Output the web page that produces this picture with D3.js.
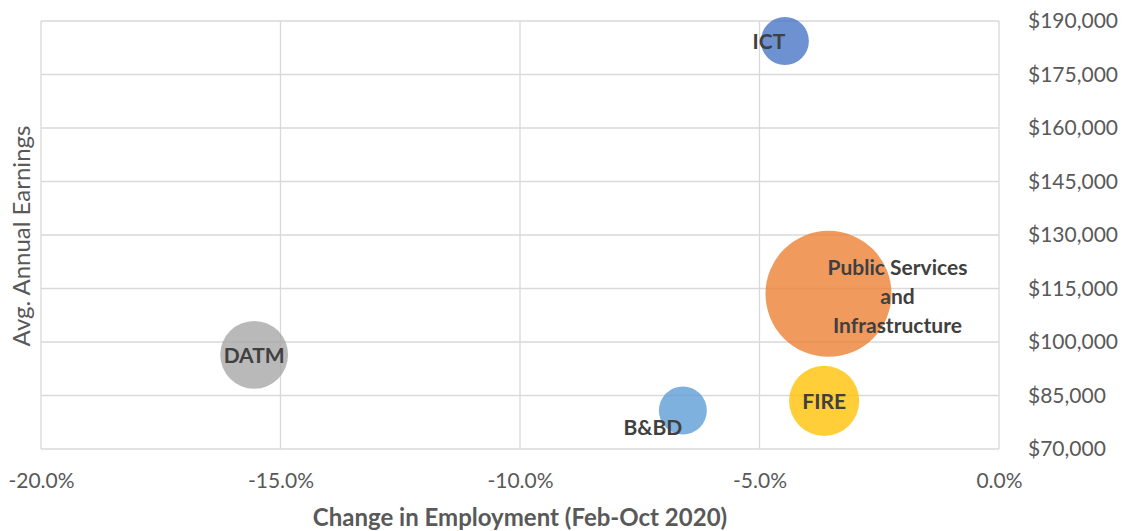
<!DOCTYPE html>
<html>
<head>
<meta charset="utf-8">
<script src="https://cdn.jsdelivr.net/npm/d3@7"></script>
<style>
  html, body { margin: 0; padding: 0; background: #fff; }
  svg { display: block; font-family: Lato, "Open Sans", sans-serif; }
</style>
</head>
<body>
<svg id="chart" width="1122" height="531"></svg>
<script>
// Sectors: change in employment (Feb-Oct 2020) vs avg. annual earnings.
const sectors = ["ICT", "Public Services and Infrastructure", "DATM", "B&BD", "FIRE"];
const employmentChange = [-0.0447, -0.0356, -0.1555, -0.066, -0.0365];
const earnings = [184400, 113500, 96400, 80800, 83500];
const bubbleSize = [14.5, 100, 29, 14.5, 31];
const colors = ["#4472C4", "#ED7D31", "#A5A5A5", "#5B9BD5", "#FFC000"];

const xTicks = [-0.20, -0.15, -0.10, -0.05, 0];
const yTicks = [70000, 85000, 100000, 115000, 130000, 145000, 160000, 175000, 190000];

const svg = d3.select("#chart");
const plot = { left: 41, right: 999, top: 21, bottom: 449 };

const x = d3.scaleLinear().domain([-0.20, 0]).range([plot.left, plot.right]);
const y = d3.scaleLinear().domain([70000, 190000]).range([plot.bottom, plot.top]);
const r = d3.scaleSqrt().domain([0, 100]).range([0, 63]);

const gridColor = "#d9d9d9";
const textColor = "#595959";

// gridlines
svg.append("g")
  .selectAll("line")
  .data(yTicks)
  .join("line")
  .attr("x1", plot.left).attr("x2", plot.right)
  .attr("y1", d => y(d)).attr("y2", d => y(d))
  .attr("stroke", gridColor).attr("stroke-width", 1.3);

svg.append("g")
  .selectAll("line")
  .data(xTicks)
  .join("line")
  .attr("x1", d => x(d)).attr("x2", d => x(d))
  .attr("y1", plot.top).attr("y2", plot.bottom)
  .attr("stroke", gridColor).attr("stroke-width", 1.3);

// x axis (labels only); Excel writes a plain hyphen for the minus
const pct = d3.format(".1f");
const xAxis = d3.axisBottom(x).tickValues(xTicks).tickSize(0).tickPadding(0)
  .tickFormat(d => (d < 0 ? "-" : "") + pct(Math.abs(d) * 100) + "%");
const gx = svg.append("g").attr("transform", `translate(0,${plot.bottom + 24})`).call(xAxis);
gx.select(".domain").remove();
gx.selectAll("text")
  .attr("dy", "0.71em")
  .attr("font-size", 21).attr("fill", textColor)
  .attr("font-family", "Lato, sans-serif");

// y axis on the right
const yAxis = d3.axisRight(y).tickValues(yTicks).tickSize(0).tickPadding(0)
  .tickFormat(d => "$" + d3.format(",")(d));
const gy = svg.append("g").attr("transform", `translate(${plot.right + 29},0)`).call(yAxis);
gy.select(".domain").remove();
gy.selectAll("text")
  .attr("font-size", 21).attr("fill", textColor)
  .attr("font-family", "Lato, sans-serif");

// axis titles
svg.append("text")
  .attr("x", 520).attr("y", 526)
  .attr("text-anchor", "middle")
  .attr("font-size", 24).attr("font-weight", "bold").attr("fill", textColor)
  .text("Change in Employment (Feb-Oct 2020)");

svg.append("text")
  .attr("transform", "translate(30,236) rotate(-90)")
  .attr("text-anchor", "middle")
  .attr("font-size", 24).attr("fill", textColor)
  .text("Avg. Annual Earnings");

// bubbles
const data = sectors.map((s, i) => ({
  name: s, x: employmentChange[i], y: earnings[i], size: bubbleSize[i], color: colors[i]
}));

svg.append("g")
  .selectAll("circle")
  .data(data.slice().sort((a, b) => b.size - a.size))
  .join("circle")
  .attr("cx", d => x(d.x))
  .attr("cy", d => y(d.y))
  .attr("r", d => r(d.size))
  .attr("fill", d => d.color)
  .attr("fill-opacity", 0.78);

// labels: offsets from bubble centre, as Excel placed them
const labelOffsets = {
  "ICT": [-16, 1],
  "Public Services and Infrastructure": [69, 3],
  "DATM": [0, 1],
  "B&BD": [-30, 17],
  "FIRE": [0, 1],
};
const labelLines = {
  "Public Services and Infrastructure": ["Public Services", "and", "Infrastructure"],
};

const labels = svg.append("g")
  .attr("font-size", 21).attr("font-weight", "bold").attr("fill", "#404040")
  .attr("text-anchor", "middle");

data.forEach(d => {
  const [dx, dy] = labelOffsets[d.name];
  const lines = labelLines[d.name] || [d.name];
  const t = labels.append("text")
    .attr("x", x(d.x) + dx)
    .attr("y", y(d.y) + dy - (lines.length - 1) * 14.5);
  lines.forEach((ln, i) => {
    t.append("tspan")
      .attr("x", x(d.x) + dx)
      .attr("dy", i === 0 ? "0.35em" : 29)
      .text(ln);
  });
});
</script>
</body>
</html>
